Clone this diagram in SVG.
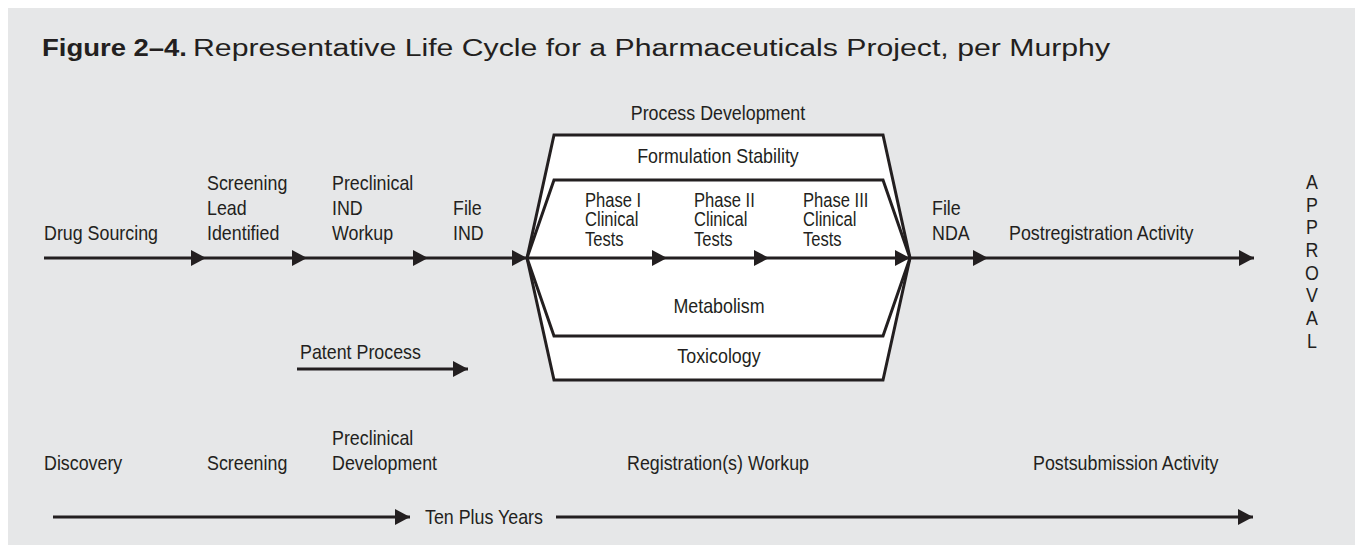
<svg xmlns="http://www.w3.org/2000/svg" width="1355" height="546" viewBox="0 0 1355 546">
<style>
.t{font-family:"Liberation Sans",Arial,sans-serif;font-size:21px;fill:#231f20}
.p{font-size:19.5px}
.c{text-anchor:middle}
.ti{font-family:"Liberation Sans",Arial,sans-serif;font-size:23px;fill:#231f20}
.b{font-weight:bold}
.ln{stroke:#231f20;stroke-width:3;fill:none}
.hex{stroke:#231f20;stroke-width:3;fill:#ffffff;stroke-linejoin:miter}
</style>
<defs>
<marker id="ah" markerUnits="userSpaceOnUse" markerWidth="16" markerHeight="18" refX="15" refY="8" orient="auto">
<path d="M0,0 L15,8 L0,16 Z" fill="#231f20"/>
</marker>
</defs>
<rect x="8" y="8" width="1347" height="537" fill="#e6e7e8"/>
<g id="title">
<text class="ti b" x="42" y="56" textLength="145" lengthAdjust="spacingAndGlyphs">Figure 2–4.</text>
<text class="ti" x="193" y="56" textLength="917" lengthAdjust="spacingAndGlyphs">Representative Life Cycle for a Pharmaceuticals Project, per Murphy</text>
</g>
<g id="registration-block">
<path class="hex" d="M527,258 L554,135 L883,135 L910,258 L883,380 L554,380 Z"/>
<path class="hex" d="M527,258 L554,180 L883,180 L910,258 L883,336 L554,336 Z"/>
</g>
<g id="connectors">
<line class="ln" x1="44" y1="258" x2="206" y2="258" marker-end="url(#ah)"/>
<line class="ln" x1="206" y1="258" x2="307" y2="258" marker-end="url(#ah)"/>
<line class="ln" x1="307" y1="258" x2="428" y2="258" marker-end="url(#ah)"/>
<line class="ln" x1="428" y1="258" x2="527" y2="258" marker-end="url(#ah)"/>
<line class="ln" x1="527" y1="258" x2="667" y2="258" marker-end="url(#ah)"/>
<line class="ln" x1="667" y1="258" x2="769" y2="258" marker-end="url(#ah)"/>
<line class="ln" x1="769" y1="258" x2="910" y2="258" marker-end="url(#ah)"/>
<line class="ln" x1="910" y1="258" x2="988" y2="258" marker-end="url(#ah)"/>
<line class="ln" x1="988" y1="258" x2="1254" y2="258" marker-end="url(#ah)"/>
<line class="ln" x1="297" y1="369" x2="468" y2="369" marker-end="url(#ah)"/>
<line class="ln" x1="53" y1="517" x2="410" y2="517" marker-end="url(#ah)"/>
<line class="ln" x1="556" y1="517" x2="1253" y2="517" marker-end="url(#ah)"/>
</g>
<g id="drug-sourcing"><text class="t" transform="translate(44,240) scale(0.85,1)">Drug Sourcing</text></g>
<g id="screening-lead"><text class="t" transform="translate(207,190) scale(0.85,1)"><tspan x="0" y="0">Screening</tspan><tspan x="0" y="25">Lead</tspan><tspan x="0" y="50">Identified</tspan></text></g>
<g id="preclinical-ind"><text class="t" transform="translate(332,190) scale(0.85,1)"><tspan x="0" y="0">Preclinical</tspan><tspan x="0" y="25">IND</tspan><tspan x="0" y="50">Workup</tspan></text></g>
<g id="file-ind"><text class="t" transform="translate(453,215) scale(0.85,1)"><tspan x="0" y="0">File</tspan><tspan x="0" y="25">IND</tspan></text></g>
<g id="process-development"><text class="t c" transform="translate(718,120) scale(0.85,1)">Process Development</text></g>
<g id="formulation-stability"><text class="t c" transform="translate(718,163) scale(0.85,1)">Formulation Stability</text></g>
<g id="phase1"><text class="t p" transform="translate(585,207) scale(0.85,1)"><tspan x="0" y="0">Phase I</tspan><tspan x="0" y="19.5">Clinical</tspan><tspan x="0" y="39">Tests</tspan></text></g>
<g id="phase2"><text class="t p" transform="translate(694,207) scale(0.85,1)"><tspan x="0" y="0">Phase II</tspan><tspan x="0" y="19.5">Clinical</tspan><tspan x="0" y="39">Tests</tspan></text></g>
<g id="phase3"><text class="t p" transform="translate(803,207) scale(0.85,1)"><tspan x="0" y="0">Phase III</tspan><tspan x="0" y="19.5">Clinical</tspan><tspan x="0" y="39">Tests</tspan></text></g>
<g id="metabolism"><text class="t c" transform="translate(719,313) scale(0.85,1)">Metabolism</text></g>
<g id="toxicology"><text class="t c" transform="translate(719,363) scale(0.85,1)">Toxicology</text></g>
<g id="file-nda"><text class="t" transform="translate(932,215) scale(0.85,1)"><tspan x="0" y="0">File</tspan><tspan x="0" y="25">NDA</tspan></text></g>
<g id="postregistration"><text class="t" transform="translate(1009,240) scale(0.85,1)">Postregistration Activity</text></g>
<g id="approval">
<text class="t c" transform="translate(1312,189) scale(0.85,1)"><tspan x="0" y="0">A</tspan><tspan x="0" y="22.7">P</tspan><tspan x="0" y="45.4">P</tspan><tspan x="0" y="68.1">R</tspan><tspan x="0" y="90.8">O</tspan><tspan x="0" y="113.5">V</tspan><tspan x="0" y="136.2">A</tspan><tspan x="0" y="159">L</tspan></text>
</g>
<g id="patent-process"><text class="t" transform="translate(300,359) scale(0.85,1)">Patent Process</text></g>
<g id="discovery"><text class="t" transform="translate(44,470) scale(0.85,1)">Discovery</text></g>
<g id="screening"><text class="t" transform="translate(207,470) scale(0.85,1)">Screening</text></g>
<g id="preclinical-development"><text class="t" transform="translate(332,445) scale(0.85,1)"><tspan x="0" y="0">Preclinical</tspan><tspan x="0" y="25">Development</tspan></text></g>
<g id="registration-workup"><text class="t" transform="translate(627,470) scale(0.85,1)">Registration(s) Workup</text></g>
<g id="postsubmission"><text class="t" transform="translate(1033,470) scale(0.85,1)">Postsubmission Activity</text></g>
<g id="ten-plus-years"><text class="t" transform="translate(425,524) scale(0.85,1)">Ten Plus Years</text></g>
</svg>
